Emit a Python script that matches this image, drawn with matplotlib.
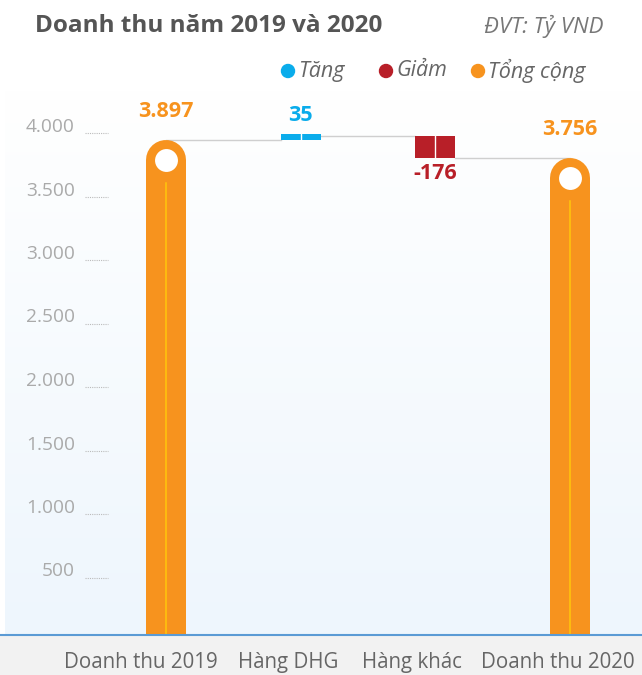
import numpy as np
import matplotlib
matplotlib.use("Agg")
import matplotlib.pyplot as plt
from matplotlib import transforms
from matplotlib.patches import Rectangle, Ellipse
from matplotlib.colors import LinearSegmentedColormap

# ---- data ----
categories = ["Doanh thu 2019", "Hàng DHG", "Hàng khác", "Doanh thu 2020"]
values = [3897, 35, -176, 3756]
kinds = ["total", "up", "down", "total"]
value_labels = ["3.897", "35", "-176", "3.756"]
yticks = [500, 1000, 1500, 2000, 2500, 3000, 3500, 4000]
ytick_labels = ["500", "1.000", "1.500", "2.000", "2.500", "3.000", "3.500", "4.000"]
legend_labels = ["Tăng", "Giảm", "Tổng cộng"]

C_UP = "#0AACEB"
C_DOWN = "#B81F28"
C_TOT = "#F7931E"
C_TXT = "#555555"
FONT = "Open Sans"

W, H = 642, 675
fig = plt.figure(figsize=(W / 100, H / 100), dpi=100)
fig.patch.set_facecolor("white")

# bottom gray strip
fig.patches.append(Rectangle((0, 0), 1, 40 / H, transform=fig.transFigure,
                             facecolor="#f2f2f2", edgecolor="none", zorder=-5))

ax_bottom = 40 / H
ax_top = 1 - 90 / H
ax = fig.add_axes([0, ax_bottom, 1, ax_top - ax_bottom])
ax.set_facecolor("none")

px_per_unit_x = 134.7
x0 = -166 / px_per_unit_x
x1 = (W - 166) / px_per_unit_x
ymax = (635 - 90) / 0.127
ax.set_xlim(x0, x1)
ax.set_ylim(0, ymax)

# gradient background
grad = np.linspace(0, 1, 256).reshape(-1, 1)
cmap = LinearSegmentedColormap.from_list("bg", ["#eef6fd", "#ffffff"])
ax.imshow(grad, extent=[x0 + 5 / px_per_unit_x, x1, 0, ymax], origin="lower",
          aspect="auto", cmap=cmap, zorder=0)

for s in ax.spines.values():
    s.set_visible(False)

fig.canvas.draw()
p0 = ax.transData.transform((0, 0))[1]
p1 = ax.transData.transform((0, 1000))[1]
ypp = 1000 / (p1 - p0)  # data units per pixel

bar_w_px = 40
bar_w = bar_w_px / px_per_unit_x
r_data = (bar_w_px / 2) * ypp

# ticks: labels + dotted stubs
blend = transforms.blended_transform_factory(ax.transAxes, ax.transData)
stub_tr = transforms.offset_copy(blend, fig=fig, x=0, y=-6, units="dots")
for v, lab in zip(yticks, ytick_labels):
    ax.text(75 / W, v, lab, transform=blend, ha="right", va="center",
            fontsize=13.8, color="#aaaaaa", family=FONT)
    ax.plot([85 / W, 108 / W], [v, v], transform=stub_tr, color="#bbbbbb",
            lw=0.8, ls=(0, (1, 1)), zorder=1)
ax.set_yticks([])

# waterfall
xs = np.arange(len(categories))
cum = 0
for i, (v, k) in enumerate(zip(values, kinds)):
    x = xs[i]
    if k == "total":
        top = v
        ax.plot([x, x], [0, top - r_data], color=C_TOT,
                lw=bar_w_px * 0.72, solid_capstyle="round", zorder=3)
        ax.plot([x], [top - r_data], marker="o", ms=16.5, color="white",
                mec="none", zorder=4)
        ax.plot([x, x], [0, top - 2 * r_data - 3 * ypp], color="#FFC60B",
                lw=1.1, zorder=4)
        ax.text(x, top + 18 * ypp, value_labels[i], ha="center", va="bottom",
                fontsize=15.5, fontweight="bold", color=C_TOT, family=FONT)
        cum = top
    else:
        base = cum
        new = cum + v
        lo, hi = min(base, new), max(base, new)
        if (hi - lo) / ypp < 6:
            hi = lo + 6 * ypp
        color = C_UP if k == "up" else C_DOWN
        ax.bar(x, hi - lo, bottom=lo, width=bar_w, color=color, zorder=3)
        ax.plot([x, x], [lo, hi], color="white", lw=1, zorder=4)
        if k == "up":
            ax.text(x, hi + 8 * ypp, value_labels[i], ha="center", va="bottom",
                    fontsize=15.5, fontweight="bold", color=color, family=FONT)
        else:
            ax.text(x, lo - 5 * ypp, value_labels[i], ha="center", va="top",
                    fontsize=15.5, fontweight="bold", color=color, family=FONT)
        cum = new

# connectors
lvl1 = values[0]
lvl2 = values[0] + values[1]
lvl3 = lvl2 + values[2]
ax.plot([xs[0], xs[1] - bar_w / 2], [lvl1, lvl1], color="#cfcfcf", lw=1, zorder=2)
ax.plot([xs[1] + bar_w / 2, xs[2] - bar_w / 2], [lvl2, lvl2], color="#cfcfcf", lw=1, zorder=2)
ax.plot([xs[2] + bar_w / 2, xs[3]], [lvl3, lvl3], color="#cfcfcf", lw=1, zorder=2)

# baseline
ax.axhline(0, color="#5b9bd5", lw=1.5, zorder=5, clip_on=False)

# x labels (shifted a little, as in the reference, to avoid overlap)
ax.set_xticks(xs)
ax.set_xticklabels(categories, fontsize=14.8, color="#666666", family=FONT)
ax.tick_params(axis="x", length=0, pad=12)
shifts_px = [-25, -13, -23, -12]
for lab, dx in zip(ax.get_xticklabels(), shifts_px):
    lab.set_transform(lab.get_transform() +
                      transforms.ScaledTranslation(dx / 100, 0, fig.dpi_scale_trans))

# title & unit
fig.text(35 / W, 1 - 26 / H, "Doanh thu năm 2019 và 2020", fontsize=17.5,
         fontweight="bold", color=C_TXT, va="center", ha="left", family=FONT)
fig.text(603 / W, 1 - 26 / H, "ĐVT: Tỷ VND", fontsize=16, style="italic",
         color="#777777", va="center", ha="right", family=FONT)

# legend
leg_items = [(288, C_UP, legend_labels[0]), (386, C_DOWN, legend_labels[1]),
             (478, C_TOT, legend_labels[2])]
for xp, c, t in leg_items:
    fig.patches.append(Ellipse((xp / W, 1 - 71 / H), 13 / W, 13 / H,
                               transform=fig.transFigure, color=c))
    fig.text((xp + 10) / W, 1 - 71 / H, t, fontsize=15.5, style="italic",
             color="#666666", va="center", ha="left", family=FONT)

fig.savefig("out.png", dpi=100)
